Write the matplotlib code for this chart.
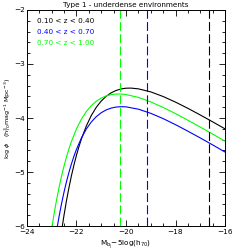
import matplotlib
matplotlib.use("Agg")
import matplotlib.pyplot as plt
from matplotlib.ticker import MultipleLocator

# Data
m_black = [-22.6, -22.5, -22.4, -22.3, -22.2, -22.1, -22.0, -21.9, -21.8, -21.6, -21.4, -21.2, -21.0,
           -20.8, -20.6, -20.4, -20.2, -20.0, -19.8, -19.5, -19.0, -18.5, -18.0, -17.5, -17.0, -16.5, -16.0]
phi_black = [-6.09, -5.794, -5.525, -5.283, -5.064, -4.868, -4.690, -4.531, -4.388, -4.146, -3.953, -3.802,
             -3.686, -3.598, -3.534, -3.490, -3.462, -3.448, -3.446, -3.460, -3.516, -3.602, -3.706, -3.821,
             -3.944, -4.071, -4.201]

m_blue = [-22.8, -22.7, -22.6, -22.5, -22.4, -22.3, -22.2, -22.1, -22.0, -21.8, -21.6, -21.4, -21.2, -21.0,
          -20.8, -20.6, -20.4, -20.2, -20.0, -19.5, -19.0, -18.5, -18.0, -17.5, -17.0, -16.5, -16.0]
phi_blue = [-6.082, -5.819, -5.582, -5.368, -5.175, -5.002, -4.846, -4.706, -4.581, -4.370, -4.203, -4.073,
            -3.975, -3.902, -3.850, -3.816, -3.797, -3.790, -3.793, -3.836, -3.913, -4.011, -4.123, -4.244,
            -4.369, -4.498, -4.630]

m_green = [-23.0, -22.9, -22.8, -22.7, -22.6, -22.5, -22.4, -22.3, -22.2, -22.0, -21.8, -21.6, -21.4, -21.2,
           -21.0, -20.8, -20.6, -20.4, -20.2, -20.0, -19.5, -19.0, -18.5, -18.0, -17.5, -17.0, -16.5, -16.0]
phi_green = [-6.048, -5.766, -5.511, -5.281, -5.073, -4.886, -4.718, -4.567, -4.432, -4.203, -4.021, -3.880,
             -3.771, -3.690, -3.631, -3.591, -3.567, -3.556, -3.556, -3.565, -3.618, -3.702, -3.804, -3.919,
             -4.041, -4.168, -4.297, -4.429]

labels = ["0.10 < z < 0.40", "0.40 < z < 0.70", "0.70 < z < 1.00"]
colors = ["black", "#0000ff", "#00ff00"]
mlim = [-16.65, -19.16, -20.24]   # vertical dashed limits for each series

fig = plt.figure(figsize=(2.49, 2.49), dpi=100)
ax = fig.add_axes([0.108, 0.092, 0.796, 0.868])

series = [(m_black, phi_black), (m_blue, phi_blue), (m_green, phi_green)]
for (m, p), c in zip(series, colors):
    ax.plot(m, p, color=c, lw=0.8)
for v, c in zip(mlim, colors):
    ax.axvline(v, color=c, lw=0.8, dashes=(8, 3))

ax.set_xlim(-24, -16)
ax.set_ylim(-6, -2)
ax.xaxis.set_major_locator(MultipleLocator(2))
ax.xaxis.set_minor_locator(MultipleLocator(0.5))
ax.yaxis.set_major_locator(MultipleLocator(1))
ax.yaxis.set_minor_locator(MultipleLocator(0.2))
ax.tick_params(which="both", direction="in", top=True, right=True, labelsize=5.3, width=0.6)
ax.tick_params(axis="x", pad=2)
ax.tick_params(axis="y", pad=1.5)
ax.tick_params(which="major", length=4)
ax.tick_params(which="minor", length=2)
for s in ax.spines.values():
    s.set_linewidth(0.7)

for i, (lab, c) in enumerate(zip(labels, colors)):
    ax.text(0.05, 0.95 - i * 0.051, lab, color=c, fontsize=5.2, transform=ax.transAxes,
            va="center", ha="left")

ax.set_title("Type 1 - underdense environments", fontsize=5.2, pad=2)
ax.set_xlabel(r"M$_{\rm b_J}$$-$5log(h$_{70}$)", fontsize=5.2)
ax.xaxis.set_label_coords(0.5, -0.055)
ax.set_ylabel(r"log $\phi$   (h$^3_{70}$mag$^{-1}$ Mpc$^{-3}$)", fontsize=4.6, va="center")
ax.yaxis.set_label_coords(-0.098, 0.5)

fig.savefig("out.png", dpi=100)
